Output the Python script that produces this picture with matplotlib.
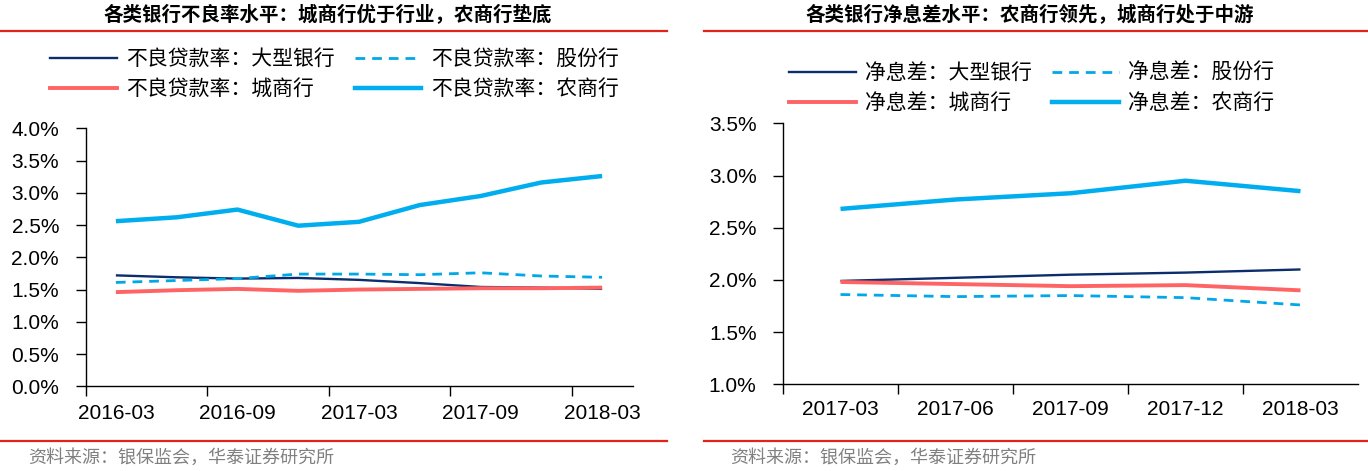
import matplotlib
matplotlib.use("Agg")
import matplotlib.pyplot as plt
from matplotlib.ticker import FuncFormatter
from matplotlib.lines import Line2D

# ---- data ----
npl_dates = ['2016-03', '2016-06', '2016-09', '2016-12', '2017-03',
             '2017-06', '2017-09', '2017-12', '2018-03']
npl_large = [1.72, 1.69, 1.67, 1.68, 1.65, 1.60, 1.54, 1.53, 1.51]
npl_joint = [1.61, 1.64, 1.67, 1.74, 1.74, 1.73, 1.76, 1.71, 1.69]
npl_city = [1.46, 1.49, 1.51, 1.48, 1.50, 1.51, 1.52, 1.52, 1.53]
npl_rural = [2.56, 2.62, 2.74, 2.49, 2.55, 2.81, 2.95, 3.16, 3.26]

nim_dates = ['2017-03', '2017-06', '2017-09', '2017-12', '2018-03']
nim_large = [1.99, 2.02, 2.05, 2.07, 2.10]
nim_joint = [1.86, 1.84, 1.85, 1.83, 1.76]
nim_city = [1.98, 1.96, 1.94, 1.95, 1.90]
nim_rural = [2.68, 2.77, 2.83, 2.95, 2.85]

npl_labels = ['不良贷款率：大型银行', '不良贷款率：股份行', '不良贷款率：城商行', '不良贷款率：农商行']
nim_labels = ['净息差：大型银行', '净息差：股份行', '净息差：城商行', '净息差：农商行']

# ---- styles ----
C_LARGE = '#0b2d6b'
C_JOINT = '#00a8e8'
C_CITY = '#ff6464'
C_RURAL = '#00aeef'
RED = '#e2231a'
CJK = ['Noto Sans CJK SC', 'DejaVu Sans']
plt.rcParams['font.family'] = ['Liberation Sans', 'Noto Sans CJK SC']

fig = plt.figure(figsize=(13.68, 4.71), dpi=100)
W, H = 1368.0, 471.0


def fx(px):
    return px / W


def fy(py):
    return 1 - py / H


def draw_panel(ax, dates, series, labels, ymin, ymax, ystep, label_idx, major_idx, xpad):
    x = list(range(len(dates)))
    styles = [
        dict(color=C_LARGE, lw=1.7, ls='-'),
        dict(color=C_JOINT, lw=2.0, ls=(0, (3.5, 2.5))),
        dict(color=C_CITY, lw=2.8, ls='-'),
        dict(color=C_RURAL, lw=3.2, ls='-'),
    ]
    for ys, st in zip(series, styles):
        ax.plot(x, ys, solid_capstyle='butt', **st)
    ax.set_xlim(-0.5, len(dates) - 0.5)
    ax.set_ylim(ymin, ymax)
    yt = []
    v = ymin
    while v <= ymax + 1e-9:
        yt.append(round(v, 2))
        v += ystep
    ax.set_yticks(yt)
    ax.yaxis.set_major_formatter(FuncFormatter(lambda v, p: '%.1f%%' % v))
    ax.set_xticks(major_idx)
    ax.set_xticklabels([])
    ax.set_xticks(label_idx, minor=True)
    ax.set_xticklabels([dates[i] for i in label_idx], minor=True)
    ax.tick_params(axis='x', which='major', direction='out', length=7, width=1)
    ax.tick_params(axis='x', which='minor', length=0, pad=xpad, labelsize=15)
    ax.tick_params(axis='y', direction='out', length=7, width=1, pad=12, labelsize=15)
    for s in ['top', 'right']:
        ax.spines[s].set_visible(False)
    for s in ['left', 'bottom']:
        ax.spines[s].set_linewidth(1)
    handles = [Line2D([], [], **st) for st in styles]
    return handles


# ---- left panel ----
ax1 = fig.add_axes([fx(85.5), fy(386.3), fx(547), 258 / H])
h1 = draw_panel(ax1, npl_dates, [npl_large, npl_joint, npl_city, npl_rural],
                npl_labels, 0, 4.0, 0.5, [0, 2, 4, 6, 8], [-0.5, 1.5, 3.5, 5.5, 7.5], 13)

# ---- right panel ----
ax2 = fig.add_axes([fx(783), fy(384.3), fx(575), 261 / H])
h2 = draw_panel(ax2, nim_dates, [nim_large, nim_joint, nim_city, nim_rural],
                nim_labels, 1.0, 3.5, 0.5, [0, 1, 2, 3, 4], [-0.5, 0.5, 1.5, 2.5, 3.5], 11)

# legends
for handles, labels, anchor in [(h1, npl_labels, (fx(50), fy(48))),
                                (h2, nim_labels, (fx(789), fy(62)))]:
    fig.legend([handles[0], handles[2], handles[1], handles[3]],
               [labels[0], labels[2], labels[1], labels[3]],
               loc='upper left', bbox_to_anchor=anchor, ncol=2, frameon=False,
               prop={'family': CJK, 'size': 15}, handlelength=3.2,
               handletextpad=0.45, columnspacing=0.95, labelspacing=0.4,
               borderpad=0, borderaxespad=0)

# titles
fig.text(fx(328), fy(15), '各类银行不良率水平：城商行优于行业，农商行垫底',
         ha='center', va='center', fontsize=14, fontweight='bold', family=CJK)
fig.text(fx(1030), fy(15), '各类银行净息差水平：农商行领先，城商行处于中游',
         ha='center', va='center', fontsize=14, fontweight='bold', family=CJK)

# red rules
for y in [30.7, 441]:
    fig.add_artist(Line2D([0, fx(667)], [fy(y), fy(y)], color=RED, lw=1.6))
    fig.add_artist(Line2D([fx(704), 1], [fy(y), fy(y)], color=RED, lw=1.6))

# sources
fig.text(fx(28), fy(458), '资料来源：银保监会，华泰证券研究所', ha='left', va='center',
         fontsize=13, color='#808080', family=CJK)
fig.text(fx(730), fy(458), '资料来源：银保监会，华泰证券研究所', ha='left', va='center',
         fontsize=13, color='#808080', family=CJK)

fig.savefig('out.png', dpi=100)
